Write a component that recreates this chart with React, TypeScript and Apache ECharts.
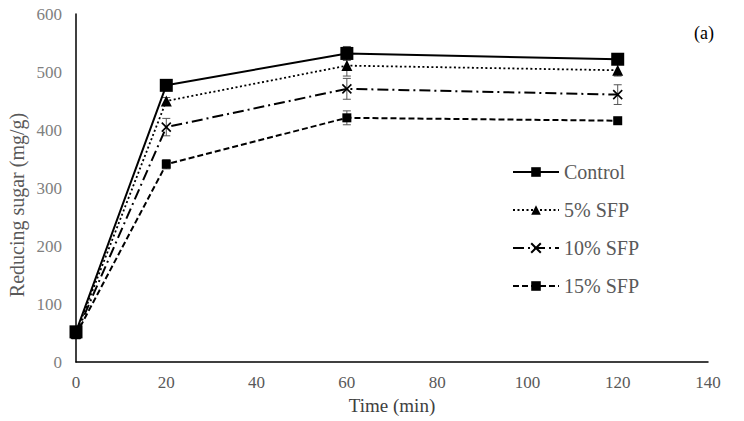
import React, { useEffect, useRef } from "react";
import * as echarts from "echarts";

const times = [0, 20, 60, 120];
const seriesNames = ["Control", "5% SFP", "10% SFP", "15% SFP"];
const controlValues = [52, 477, 532, 522];
const sfp5Values = [50, 450, 511, 503];
const sfp10Values = [48, 405, 471, 461];
const sfp15Values = [47, 341, 421, 416];
const controlErr = [6, 6, 12, 6];
const sfp5Err = [4, 6, 18, 10];
const sfp10Err = [4, 15, 18, 17];
const sfp15Err = [4, 8, 12, 4];
const yTicks = [0, 100, 200, 300, 400, 500, 600];
const xTicks = [0, 20, 40, 60, 80, 100, 120, 140];

const FONT = "Liberation Serif";
const crossPath = "path://M0,0L10,10M10,0L0,10";

export default function App() {
  const ref = useRef<HTMLDivElement>(null);
  useEffect(() => {
    if (!ref.current) return;
    const chart = echarts.init(ref.current, undefined, { renderer: "svg" });
    const allValues = [controlValues, sfp5Values, sfp10Values, sfp15Values];
    const allErr = [controlErr, sfp5Err, sfp10Err, sfp15Err];
    const lineTypes: any[] = ["solid", [2, 2.5], [11, 4, 2, 4], [6, 3]];
    const widths = [2, 1.8, 2, 2];
    const symbols = ["rect", "triangle", crossPath, "rect"];
    const sizes = [13, 11, 9, 9];

    const lineSeries = seriesNames.map((name, i) => ({
      name,
      type: "line",
      data: times.map((t, j) => [t, allValues[i][j]]),
      symbol: symbols[i],
      symbolSize: sizes[i],
      showAllSymbol: true,
      z: 10 - i,
      lineStyle: { color: "#000", width: widths[i], type: lineTypes[i] },
      itemStyle:
        i === 2
          ? { color: "#000", borderColor: "#000", borderWidth: 1.6 }
          : { color: "#000", borderWidth: 0 },
    }));

    const errSeries = seriesNames.map((name, i) => ({
      name: name + " err",
      type: "custom",
      z: 5,
      silent: true,
      data: times.map((t, j) => [t, allValues[i][j] - allErr[i][j], allValues[i][j] + allErr[i][j]]),
      encode: { x: 0, y: [1, 2] },
      renderItem: (params: any, api: any) => {
        const lo = api.coord([api.value(0), api.value(1)]);
        const hi = api.coord([api.value(0), api.value(2)]);
        const w = 4;
        const st = { stroke: "#555", lineWidth: 1 };
        return {
          type: "group",
          children: [
            { type: "line", shape: { x1: lo[0], y1: lo[1], x2: hi[0], y2: hi[1] }, style: st },
            { type: "line", shape: { x1: lo[0] - w, y1: lo[1], x2: lo[0] + w, y2: lo[1] }, style: st },
            { type: "line", shape: { x1: hi[0] - w, y1: hi[1], x2: hi[0] + w, y2: hi[1] }, style: st },
          ],
        };
      },
    }));

    chart.setOption({
      animation: false,
      backgroundColor: "#fff",
      textStyle: { fontFamily: FONT },
      grid: { left: 76, right: 36, top: 14, bottom: 59 },
      legend: {
        data: seriesNames,
        orient: "vertical",
        left: 507,
        top: 157,
        itemGap: 18,
        itemWidth: 46,
        itemHeight: 12,
        textStyle: { fontFamily: FONT, fontSize: 20, color: "#595959" },
      },
      graphic: [
        {
          type: "text",
          left: 694,
          top: 24,
          style: { text: "(a)", font: `18px ${FONT}`, fill: "#000" },
        },
        {
          type: "text",
          x: 17,
          y: 205,
          rotation: Math.PI / 2,
          style: {
            text: "Reducing sugar (mg/g)",
            font: `20px ${FONT}`,
            fill: "#595959",
            align: "center",
            verticalAlign: "middle",
          },
        },
      ],
      xAxis: {
        type: "value",
        min: xTicks[0],
        max: xTicks[xTicks.length - 1],
        interval: 20,
        name: "Time (min)",
        nameLocation: "middle",
        nameGap: 33,
        nameTextStyle: { fontFamily: FONT, fontSize: 19, color: "#404040" },
        axisLine: { show: true, lineStyle: { color: "#000", width: 1.5 } },
        axisTick: { show: false },
        splitLine: { show: false },
        axisLabel: { fontFamily: FONT, fontSize: 17, color: "#595959", margin: 12 },
      },
      yAxis: {
        type: "value",
        min: yTicks[0],
        max: yTicks[yTicks.length - 1],
        interval: 100,
        axisLine: { show: true, lineStyle: { color: "#000", width: 1.5 } },
        axisTick: { show: false },
        splitLine: { show: false },
        axisLabel: { fontFamily: FONT, fontSize: 17, color: "#808080", margin: 14 },
      },
      series: [...errSeries, ...lineSeries],
    });
    return () => chart.dispose();
  }, []);
  return <div ref={ref} style={{ width: 744, height: 421, position: "absolute", left: 0, top: 0 }} />;
}
